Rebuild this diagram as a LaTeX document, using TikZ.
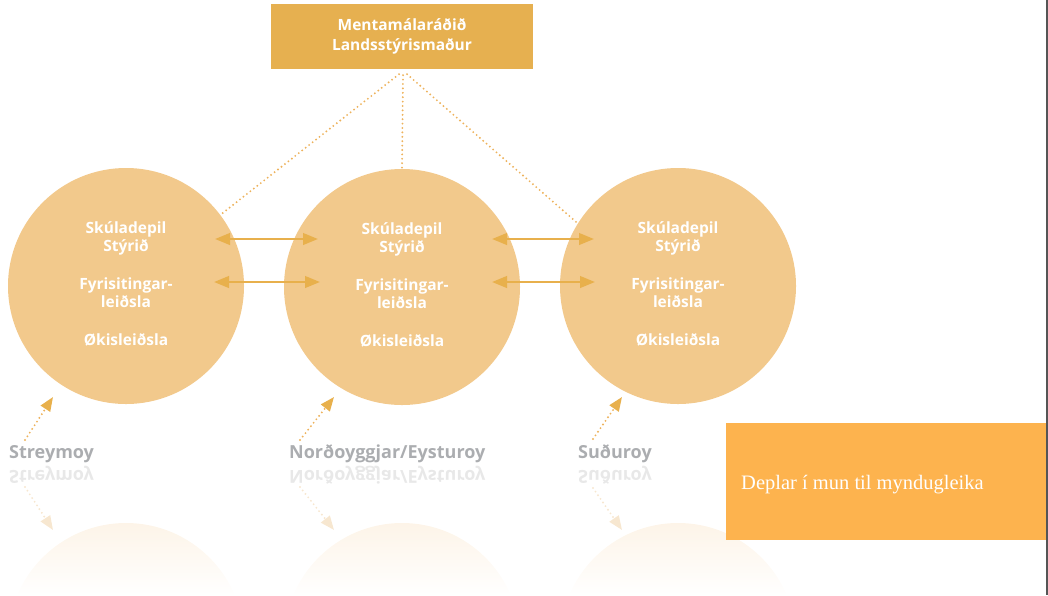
\documentclass[tikz,border=0pt]{standalone}
\usepackage{fontspec}
\setmainfont{Liberation Serif}
\newfontfamily\osans{Open Sans}
\usetikzlibrary{arrows.meta,calc}
\definecolor{topboxc}{HTML}{E6B050}
\definecolor{circc}{HTML}{F2C98C}
\definecolor{arrowc}{HTML}{E8B04C}
\definecolor{dotc}{HTML}{EDB25C}
\definecolor{labc}{HTML}{ABADB0}
\definecolor{reflabc}{HTML}{E8E8E8}
\definecolor{refdotc}{HTML}{F7E7D0}
\definecolor{reflc}{HTML}{FDF4E8}
\definecolor{orangec}{HTML}{FDB34E}
\definecolor{edgec}{HTML}{555555}
\tikzset{
  topbox/.style={rectangle, fill=topboxc, minimum width=262pt, minimum height=65pt, inner sep=0pt,
    text=white, align=center, font=\osans\bfseries\fontsize{15.5}{19.5}\selectfont},
  circ/.style={circle, fill=circc, minimum size=236pt, inner sep=0pt},
  ctext/.style={inner sep=0pt, text=white, align=center,
    font=\osans\bfseries\fontsize{15.5}{18}\selectfont},
  dotline/.style={draw=dotc, line width=2.1pt, line cap=round, dash pattern=on 0pt off 4.4pt},
  dbl/.style={draw=arrowc, line width=2.5pt, {Triangle[length=15pt,width=11.5pt]}-{Triangle[length=15pt,width=11.5pt]}},
  uparrow/.style={dotline, -{Triangle[length=14pt,width=11pt, fill=arrowc, color=arrowc]}},
  refarrow/.style={draw=refdotc, line width=2.1pt, line cap=round, dash pattern=on 0pt off 4.4pt,
    -{Triangle[length=14pt,width=11pt]}},
  lab/.style={anchor=base west, inner sep=0pt, text=labc, font=\osans\bfseries\fontsize{18}{20}\selectfont},
  reflab/.style={anchor=base west, inner sep=0pt, text=reflabc, font=\osans\bfseries\fontsize{18}{20}\selectfont},
  obox/.style={rectangle, fill=orangec, minimum width=320pt, minimum height=117pt, inner sep=0pt},
  otext/.style={anchor=base west, inner sep=0pt, text=white, font=\fontsize{20.5}{24}\selectfont},
}
\begin{document}
\begin{tikzpicture}[x=1pt,y=-1pt]
\useasboundingbox (0,0) rectangle (1048,595);
% reflections
\foreach \cx/\nm in {126/r1,402/r2,678/r3}{
  \begin{scope}
    \clip (\cx,641) circle (118);
    \shade[top color=reflc, bottom color=white] (\cx-120,523) rectangle (\cx+120,596);
  \end{scope}
}
% top box
\node[topbox] (top) at (402,36.5) {Mentamálaráðið\\Landsstýrismaður};
% circles
\node[circ] (c1) at (126,286) {};
\node[circ] (c2) at (402,287) {};
\node[circ] (c3) at (678,286) {};
\node[ctext] (x1) at (126,283.5) {Skúladepil\\Stýrið\\[20pt]Fyrisitingar-\\leiðsla\\[20pt]Økisleiðsla};
\node[ctext] (x2) at (402,284.5) {Skúladepil\\Stýrið\\[20pt]Fyrisitingar-\\leiðsla\\[20pt]Økisleiðsla};
\node[ctext] (x3) at (678,283.5) {Skúladepil\\Stýrið\\[20pt]Fyrisitingar-\\leiðsla\\[20pt]Økisleiðsla};
% dotted links
\coordinate (tl) at ($(top.south)+(-3,5)$);
\coordinate (tm) at ($(top.south)+(1,6)$);
\coordinate (tr) at ($(top.south)+(5,5)$);
\draw[dotline] (tl) -- (c1.37);
\draw[dotline] (tm) -- (c2.north);
\draw[dotline] (tr) -- (c3.148);
% double arrows
\coordinate (a1) at (215,239); \coordinate (b1) at (318,239);
\coordinate (a2) at (214,282); \coordinate (b2) at (320,282);
\coordinate (a3) at (492,239); \coordinate (b3) at (594,239);
\coordinate (a4) at (492,282); \coordinate (b4) at (595,282);
\draw[dbl] (a1) -- (b1);
\draw[dbl] (a2) -- (b2);
\draw[dbl] (a3) -- (b3);
\draw[dbl] (a4) -- (b4);
% labels
\node[lab] (l1) at (9,458) {Streymoy};
\node[lab] (l2) at (289,458) {Norðoyggjar/Eysturoy};
\node[lab] (l3) at (578,458) {Suðuroy};
\node[reflab] (m1) at (9,470) {\scalebox{1}[-1]{Streymoy}};
\node[reflab] (m2) at (289,470) {\scalebox{1}[-1]{Norðoyggjar/Eysturoy}};
\node[reflab] (m3) at (578,470) {\scalebox{1}[-1]{Suðuroy}};
% label arrows
\coordinate (s1) at (25,440); \coordinate (t1) at (53,397);
\coordinate (s2) at (300,440); \coordinate (t2) at (334,397);
\coordinate (s3) at (593,439); \coordinate (t3) at (622,397);
\draw[uparrow] (s1) -- (t1);
\draw[uparrow] (s2) -- (t2);
\draw[uparrow] (s3) -- (t3);
\coordinate (u1) at (25,487); \coordinate (v1) at (53,530);
\coordinate (u2) at (300,487); \coordinate (v2) at (334,530);
\coordinate (u3) at (593,488); \coordinate (v3) at (622,530);
\draw[refarrow] (u1) -- (v1);
\draw[refarrow] (u2) -- (v2);
\draw[refarrow] (u3) -- (v3);
% orange box
\node[obox] (ob) at (886,481.5) {};
\node[otext] (ot) at (741,489) {Deplar í mun til myndugleika};
% right edge line
\coordinate (e1) at (1047.2,0); \coordinate (e2) at (1047.2,595);
\draw[edgec, line width=1.5pt] (e1) -- (e2);
\end{tikzpicture}
\end{document}
